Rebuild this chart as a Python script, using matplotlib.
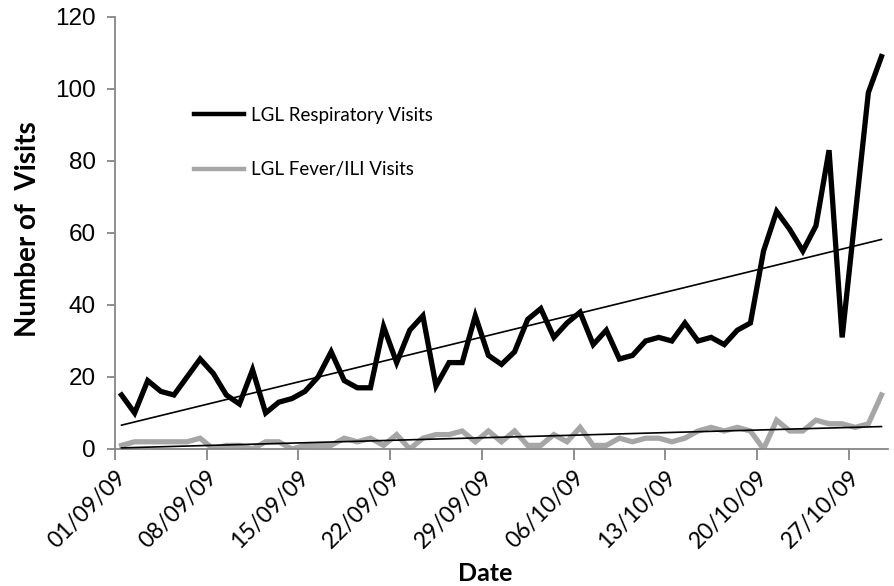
import numpy as np
import matplotlib
matplotlib.use("Agg")
import matplotlib.pyplot as plt
import pandas as pd

# ---- data ----
dates = pd.date_range("2009-09-01", periods=59, freq="D")
respiratory = [15, 10, 19, 16, 15, 20, 25, 21, 15, 12.5,
               22, 10, 13, 14, 16, 20, 27, 19, 17, 17,
               34, 24, 33, 37, 17.5, 24, 24, 37, 26, 23.5,
               27, 36, 39, 31, 35, 38, 29, 33, 25, 26,
               30, 31, 30, 35, 30, 31, 29, 33, 35, 55,
               66, 61, 55, 62, 83, 31, 65, 99, 109]
fever_ili = [1, 2, 2, 2, 2, 2, 3, 0, 1, 1,
             0, 2, 2, 0, 1, 1, 1, 3, 2, 3,
             1, 4, 0, 3, 4, 4, 5, 2, 5, 2,
             5, 1, 1, 4, 2, 6, 1, 1, 3, 2,
             3, 3, 2, 3, 5, 6, 5, 6, 5, 0,
             8, 5, 5, 8, 7, 7, 6, 7, 15]
tick_dates = ["01/09/09", "08/09/09", "15/09/09", "22/09/09", "29/09/09",
              "06/10/09", "13/10/09", "20/10/09", "27/10/09"]
series_labels = ["LGL Respiratory Visits", "LGL Fever/ILI Visits"]

# ---- figure ----
fig = plt.figure(figsize=(8.94, 5.86), dpi=100)
ax = fig.add_axes([0.1286, 0.2338, 0.8647, 0.7372])

x = np.arange(len(dates))
axis_grey = "#868686"
c_resp = "#000000"
c_fev = "#a6a6a6"

ax.plot(x, respiratory, color=c_resp, lw=3.8, solid_joinstyle="miter",
        label=series_labels[0], zorder=3)
ax.plot(x, fever_ili, color=c_fev, lw=3.8, solid_joinstyle="miter",
        label=series_labels[1], zorder=2)

# linear trend lines
for ser in (respiratory, fever_ili):
    k, b = np.polyfit(x, ser, 1)
    ax.plot(x, k * x + b, color="black", lw=1.2, zorder=4)

ax.set_xlim(-0.5, len(dates) - 0.5)
ax.set_ylim(0, 120)
ax.set_yticks(np.arange(0, 121, 20))

date_strs = [d.strftime("%d/%m/%y") for d in dates]
tick_pos = [date_strs.index(t) - 0.5 for t in tick_dates]
ax.set_xticks(tick_pos)
ax.set_xticklabels(tick_dates, rotation=45, ha="right", va="top",
                   rotation_mode="anchor", fontsize=16.5, family="Lato")

for lab in ax.get_yticklabels():
    lab.set_family("Liberation Sans")
    lab.set_fontsize(17.5)

for s in ("top", "right"):
    ax.spines[s].set_visible(False)
for s in ("left", "bottom"):
    ax.spines[s].set_color(axis_grey)
    ax.spines[s].set_linewidth(1.3)
ax.tick_params(axis="x", direction="out", length=8, width=1.3, color=axis_grey, pad=5)
ax.tick_params(axis="y", direction="out", length=6, width=1.3, color=axis_grey, pad=8)

ax.set_xlabel("Date", fontsize=18, fontweight="bold", family="Lato", va="top")
ax.xaxis.set_label_coords(0.479, -0.262)
ax.set_ylabel("Number of  Visits", fontsize=20, fontweight="bold", family="Lato",
              va="center")
ax.yaxis.set_label_coords(-0.1125, 0.51)

leg = ax.legend(loc="upper left", bbox_to_anchor=(0.080, 0.831), frameon=False,
                prop={"family": "Lato", "size": 13.5}, handlelength=2.67,
                handletextpad=0.37, labelspacing=2.0)
for h in leg.get_lines():
    h.set_linewidth(3.2)

fig.savefig("out.png", dpi=100)
